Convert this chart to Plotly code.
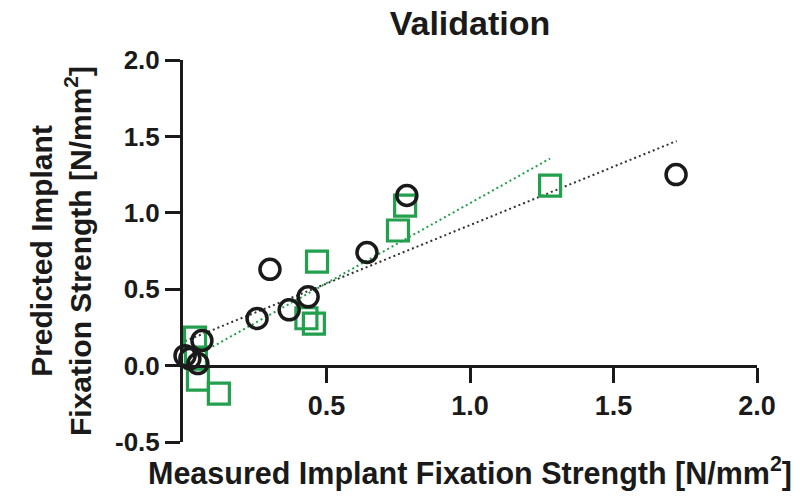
import plotly.graph_objects as go

# Validation data: measured vs predicted implant fixation strength [N/mm^2]
circle_measured = [0.007, 0.024, 0.052, 0.066, 0.258, 0.303, 0.370, 0.436, 0.641, 0.780, 1.718]
circle_predicted = [0.065, 0.046, 0.013, 0.164, 0.308, 0.630, 0.365, 0.450, 0.740, 1.113, 1.250]

square_measured = [0.042, 0.045, 0.052, 0.125, 0.430, 0.456, 0.467, 0.749, 0.774, 1.279]
square_predicted = [0.183, 0.052, -0.092, -0.183, 0.310, 0.275, 0.680, 0.884, 1.047, 1.178]

# Linear fit lines (end points)
circle_fit_x = [0.007, 1.72]
circle_fit_y = [0.16, 1.47]
square_fit_x = [0.042, 1.279]
square_fit_y = [0.06, 1.355]

x_tick_vals = [0.5, 1.0, 1.5, 2.0]
x_tick_text = ["0.5", "1.0", "1.5", "2.0"]
y_tick_vals = [-0.5, 0.0, 0.5, 1.0, 1.5, 2.0]
y_tick_text = ["-0.5", "0.0", "0.5", "1.0", "1.5", "2.0"]

x_range = [0.0, 2.0]
y_range = [-0.5, 2.0]

INK = "#1a1a1a"
GREEN = "#22a04d"
FONT = "Arial, Liberation Sans, sans-serif"

fig = go.Figure()

fig.add_trace(go.Scatter(
    x=circle_fit_x, y=circle_fit_y, mode="lines",
    line=dict(color="#333333", width=2, dash="2px,3px"),
    hoverinfo="skip", showlegend=False, cliponaxis=False,
))
fig.add_trace(go.Scatter(
    x=square_fit_x, y=square_fit_y, mode="lines",
    line=dict(color=GREEN, width=2, dash="2px,3px"),
    hoverinfo="skip", showlegend=False, cliponaxis=False,
))
fig.add_trace(go.Scatter(
    x=square_measured, y=square_predicted, mode="markers",
    marker=dict(symbol="square-open", size=21, color=GREEN, line=dict(width=3.2, color=GREEN)),
    showlegend=False, cliponaxis=False,
))
fig.add_trace(go.Scatter(
    x=circle_measured, y=circle_predicted, mode="markers",
    marker=dict(symbol="circle-open", size=20, color=INK, line=dict(width=3.5, color=INK)),
    showlegend=False, cliponaxis=False,
))

# x axis crosses the y axis at zero
x_axis_pos = (0 - y_range[0]) / (y_range[1] - y_range[0])

fig.update_layout(
    width=800, height=496,
    margin=dict(l=183, r=43, t=60, b=54),
    paper_bgcolor="white", plot_bgcolor="white",
    font=dict(family=FONT, color=INK, weight="bold"),
    title=dict(
        text="Validation", x=0.5, xref="paper", xanchor="center",
        y=1 - 23 / 496, yref="container", yanchor="middle",
        font=dict(size=34, family=FONT, color=INK, weight="bold"),
    ),
    xaxis=dict(
        range=x_range, anchor="free", position=x_axis_pos,
        showline=True, linewidth=3, linecolor=INK,
        ticks="outside", ticklen=15, tickwidth=3, tickcolor=INK,
        tickvals=x_tick_vals, ticktext=x_tick_text,
        tickfont=dict(size=27, family=FONT, color=INK, weight="bold"),
        showgrid=False, zeroline=False,
        title=dict(text="Measured Implant Fixation Strength [N/mm<sup>2</sup>]",
                   font=dict(size=30.5, family=FONT, color=INK, weight="bold"),
                   standoff=42),
    ),
    yaxis=dict(
        range=y_range,
        showline=True, linewidth=3, linecolor=INK,
        ticks="outside", ticklen=15, tickwidth=3, tickcolor=INK,
        tickvals=y_tick_vals, ticktext=y_tick_text,
        tickfont=dict(size=26, family=FONT, color=INK, weight="bold"),
        showgrid=False, zeroline=False,
        title=dict(text="Predicted Implant<br>Fixation Strength [N/mm<sup>2</sup>]",
                   font=dict(size=30, family=FONT, color=INK, weight="bold"),
                   standoff=15),
    ),
)

fig.write_html("out.html", config={"displayModeBar": False})
